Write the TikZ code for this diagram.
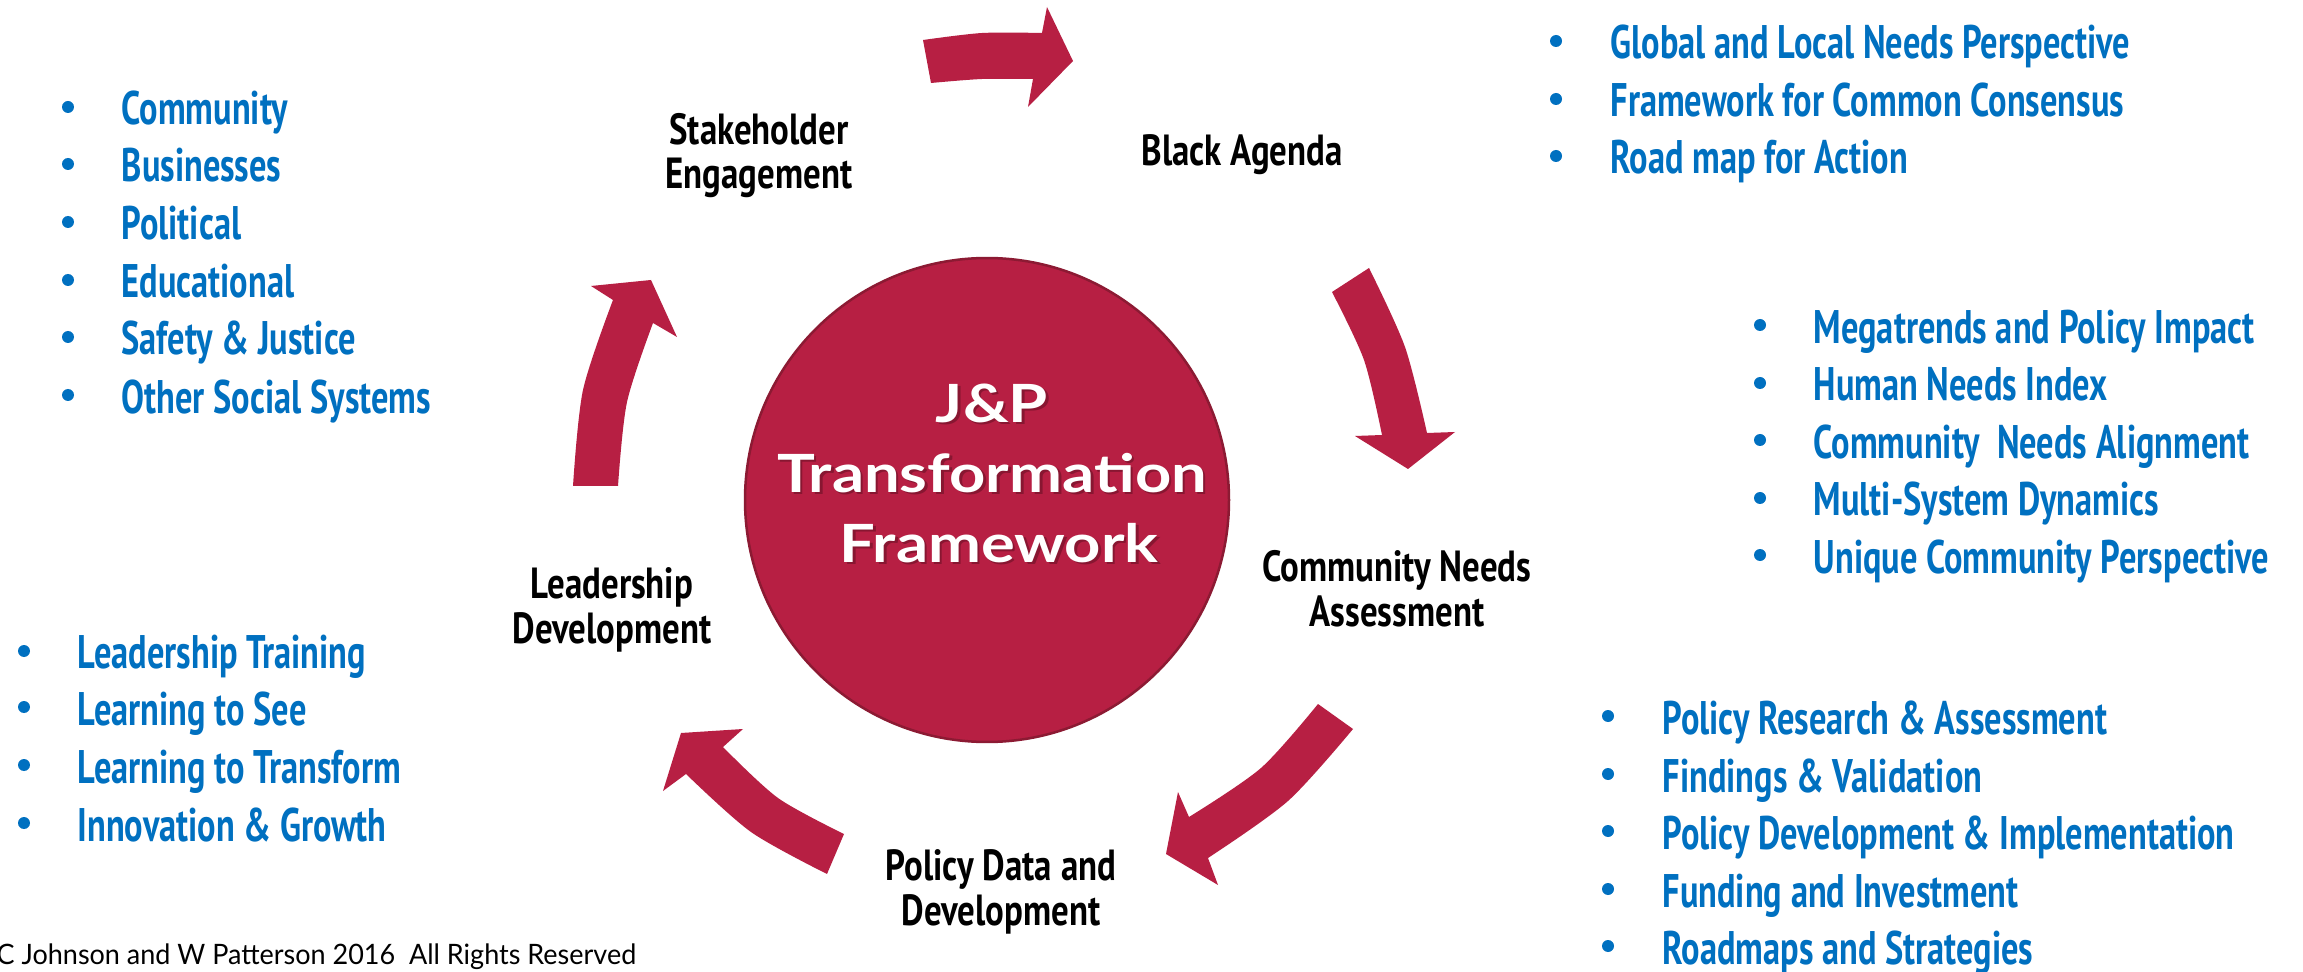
\documentclass[tikz,border=0pt]{standalone}
\usepackage{fontspec}
\setmainfont{PT Sans}
\newfontfamily\listfont{PT Sans}[FakeStretch=0.73]
\newfontfamily\lblfont{PT Sans}[FakeStretch=0.80]
\newfontfamily\hubfont{Lato}[FakeStretch=1.2]
\newfontfamily\copyfont{Lato}[FakeStretch=0.96]
\definecolor{arrowred}{HTML}{B71F43}
\definecolor{hubedge}{HTML}{8C1A33}
\definecolor{listblue}{HTML}{0070C0}
\definecolor{shadowc}{HTML}{5A0E20}
\tikzset{
  listtxt/.style={font=\listfont\bfseries\fontsize{13.4}{16}\selectfont, text=listblue, inner sep=0pt, anchor=base west},
  bul/.style={circle, fill=listblue, inner sep=0pt, minimum size=1.2mm},
  lbl/.style={font=\lblfont\bfseries\fontsize{12.4}{12.6}\selectfont, align=center, inner sep=0pt, anchor=base},
  hubtxt/.style={font=\hubfont\bfseries\fontsize{15}{19.9}\selectfont, align=center, inner sep=0pt, anchor=base},
  cyclearrow/.style={fill=arrowred},
}
\newcommand\litem[5]{%
  \node[bul] (#1b) at (#2,#4-18) {};
  \node[listtxt] (#1) at (#3,#4) {#5};}
\begin{document}
\begin{tikzpicture}[x=0.1mm,y=-0.1mm]
\useasboundingbox (0,0) rectangle (2303,972);
\fill[white] (0,0) rectangle (2303,972);

% hub circle
\node[circle, fill=arrowred, draw=hubedge, line width=0.25mm, minimum size=48.4mm, inner sep=0pt] (hub) at (987,500) {};
\node[hubtxt, text=shadowc, opacity=0.5] (hubshadow) at (994.5,564.5) {J\&P\\Transformation\\\hspace*{1.4mm}Framework};
\node[hubtxt, text=white] (hubtext) at (992,562) {J\&P\\Transformation\\\hspace*{1.4mm}Framework};

% cycle arrows
\fill[cyclearrow] plot[smooth] coordinates {(923,40) (982,33) (1042,33)} -- (1047,7) -- (1073,61) -- (1028,107) -- (1033,79)
  -- plot[smooth] coordinates {(1033,79) (982,79) (931,83)} -- cycle;
\fill[cyclearrow] plot[smooth] coordinates {(1369,268) (1405,347) (1427,433)} -- (1455,432) -- (1408,469) -- (1355,436) -- (1382,435)
  -- plot[smooth] coordinates {(1382,435) (1364,360) (1332,292)} -- cycle;
\fill[cyclearrow] plot[smooth] coordinates {(1353,729) (1288,801) (1208,858)} -- (1218,885) -- (1166,854) -- (1178,792) -- (1189,817)
  -- plot[smooth] coordinates {(1189,817) (1261,768) (1318,704)} -- cycle;
\fill[cyclearrow] plot[smooth] coordinates {(827,874) (751,832) (686,774)} -- (663,791) -- (681,733) -- (743,729) -- (723,747)
  -- plot[smooth] coordinates {(723,747) (778,798) (844,834)} -- cycle;
\fill[cyclearrow] plot[smooth] coordinates {(573,486) (583,390) (613,300)} -- (591,286) -- (651,280) -- (677,337) -- (653,323)
  -- plot[smooth] coordinates {(653,323) (627,402) (618,486)} -- cycle;

% stage labels (anchor = baseline of the last line)
\node[lbl] (stake) at (759,189) {Stakeholder\\Engagement};
\node[lbl] (black) at (1242,166) {Black Agenda};
\node[lbl] (cna) at (1397,626) {Community Needs\\Assessment};
\node[lbl] (pdd) at (1001,925) {Policy Data and\\Development};
\node[lbl] (lead) at (612,643) {Leadership\\Development};

% lists
\litem{la}{68}{121}{125}{Community}
\litem{lb}{68}{121}{182}{Businesses}
\litem{lc}{68}{121}{240}{Political}
\litem{ld}{68}{121}{298}{Educational}
\litem{le}{68}{121}{355}{Safety \& Justice}
\litem{lf}{68}{121}{413}{Other Social Systems}

\litem{ta}{1556}{1610}{59}{Global and Local Needs Perspective}
\litem{tb}{1556}{1610}{117}{Framework for Common Consensus}
\litem{tc}{1556}{1610}{174}{Road map for Action}

\litem{ra}{1760}{1813}{343}{Megatrends and Policy Impact}
\litem{rb}{1760}{1813}{401}{Human Needs Index}
\litem{rc}{1760}{1813}{458}{Community\ \ Needs Alignment}
\litem{rd}{1760}{1813}{516}{Multi-System Dynamics}
\litem{re}{1760}{1813}{573}{Unique Community Perspective}

\litem{pa}{1608}{1662}{734}{Policy Research \& Assessment}
\litem{pb}{1608}{1662}{792}{Findings \& Validation}
\litem{pc}{1608}{1662}{849}{Policy Development \& Implementation}
\litem{pd}{1608}{1662}{907}{Funding and Investment}
\litem{pe}{1608}{1662}{964}{Roadmaps and Strategies}

\litem{da}{24}{77}{669}{Leadership Training}
\litem{db}{24}{77}{725}{Learning to See}
\litem{dc}{24}{77}{783}{Learning to Transform}
\litem{dd}{24}{77}{841}{Innovation \& Growth}

\node[font=\copyfont\fontsize{8}{9}\selectfont, inner sep=0pt, anchor=base west] (copy) at (-4,964) {C Johnson and W Patterson 2016\ \ All Rights Reserved};
\end{tikzpicture}
\end{document}
